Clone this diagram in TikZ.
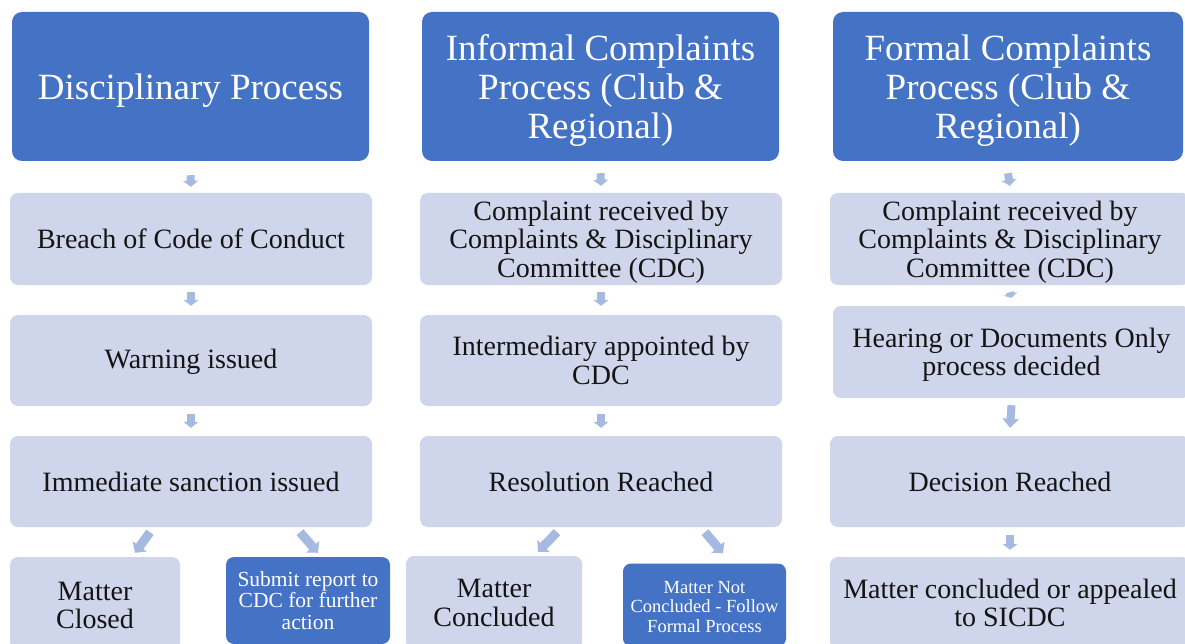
\documentclass[tikz,border=0pt]{standalone}
\usepackage{fontspec}
\setmainfont{Liberation Serif}
\usetikzlibrary{arrows.meta,calc}
\definecolor{hdr}{RGB}{68,114,196}
\definecolor{lbox}{RGB}{207,213,234}
\definecolor{arrc}{RGB}{166,185,224}
\definecolor{txt}{RGB}{20,20,20}
\newcommand{\hdrstrut}{\rule{0pt}{34pt}}
\newcommand{\bodystrut}{\rule{0pt}{25pt}}
\tikzset{
  hdrbox/.style={rectangle, rounded corners=10pt, fill=hdr, text=white, align=center,
    font=\fontsize{37}{39}\selectfont, inner sep=0pt},
  lightbox/.style={rectangle, rounded corners=8pt, fill=lbox, text=txt, align=center,
    font=\fontsize{28}{28.5}\selectfont, inner sep=0pt},
  darkbox/.style={rectangle, rounded corners=8pt, fill=hdr, text=white, align=center, inner sep=0pt},
  barrow/.style={draw=arrc, line width=8pt, -{Triangle[width=15pt,length=6pt]}},
  darrow/.style={draw=arrc, line width=9pt, -{Triangle[width=17pt,length=8pt]}},
}
\begin{document}
\begin{tikzpicture}[x=1pt,y=-1pt]
\useasboundingbox (0,0) rectangle (1185,644);
\clip (0,0) rectangle (1185,644);
% headers
\node[hdrbox, minimum width=357pt, minimum height=149pt] (h1) at (190.5,86.5) {\hdrstrut Disciplinary Process};
\node[hdrbox, minimum width=357pt, minimum height=149pt] (h2) at (600.5,86.5) {\hdrstrut Informal Complaints\\Process (Club \&\\Regional)};
\node[hdrbox, minimum width=350pt, minimum height=149pt] (h3) at (1008,86.5) {\hdrstrut Formal Complaints\\Process (Club \&\\Regional)};
% column 1
\node[lightbox, minimum width=362pt, minimum height=92pt] (b1) at (191,239) {Breach of Code of Conduct};
\node[lightbox, minimum width=362pt, minimum height=91pt] (b2) at (191,360.5) {\rule{0pt}{23pt}Warning issued};
\node[lightbox, minimum width=362pt, minimum height=91pt] (b3) at (191,481.5) {Immediate sanction issued};
\node[lightbox, minimum width=170pt, minimum height=93pt] (e1) at (95,603.5) {\rule{0pt}{22pt}Matter\\Closed};
\node[darkbox, minimum width=164pt, minimum height=87pt, font=\fontsize{21.5}{21.5}\selectfont] (e2) at (308,600.5) {Submit report to\\CDC for further\\action};
% column 2
\node[lightbox, minimum width=362pt, minimum height=92pt] (c1) at (601,239) {\bodystrut Complaint received by\\Complaints \& Disciplinary\\Committee (CDC)};
\node[lightbox, minimum width=362pt, minimum height=91pt] (c2) at (601,360.5) {Intermediary appointed by\\CDC};
\node[lightbox, minimum width=362pt, minimum height=91pt] (c3) at (601,481.5) {Resolution Reached};
\node[lightbox, minimum width=176pt, minimum height=94pt] (f1) at (494,603) {Matter\\Concluded};
\node[darkbox, minimum width=163pt, minimum height=83pt, font=\fontsize{18.5}{19.5}\selectfont] (f2) at (704.5,605) {\rule{0pt}{16pt}Matter Not\\Concluded - Follow\\Formal Process};
% column 3
\node[lightbox, minimum width=360pt, minimum height=92pt] (d1) at (1010,239) {\bodystrut Complaint received by\\Complaints \& Disciplinary\\Committee (CDC)};
\node[lightbox, minimum width=357pt, minimum height=92pt] (d2) at (1011.5,352) {\bodystrut Hearing or Documents Only\\process decided};
\node[lightbox, minimum width=360pt, minimum height=91pt] (d3) at (1010,481.5) {Decision Reached};
\node[lightbox, minimum width=360pt, minimum height=92pt] (d4) at (1010,603) {Matter concluded or appealed\\to SICDC};
% arrows column 1
\draw[barrow] ([yshift=-14pt]h1.south) -- ([yshift=6pt]b1.north);
\draw[barrow] ([yshift=-7pt]b1.south) -- ([yshift=9pt]b2.north);
\draw[barrow] ([yshift=-8pt]b2.south) -- ([yshift=8pt]b3.north);
\draw[darrow] ([xshift=-41pt,yshift=-5pt]b3.south) -- ([xshift=40pt,yshift=4pt]e1.north);
\draw[darrow] ([xshift=109pt,yshift=-5pt]b3.south) -- ([xshift=10pt,yshift=4pt]e2.north);
% arrows column 2
\draw[barrow] ([yshift=-12pt]h2.south) -- ([yshift=7pt]c1.north);
\draw[barrow] ([yshift=-7pt]c1.south) -- ([yshift=9pt]c2.north);
\draw[barrow] ([yshift=-8pt]c2.south) -- ([yshift=8pt]c3.north);
\draw[darrow] ([xshift=-44pt,yshift=-5pt]c3.south) -- ([xshift=44pt,yshift=4pt]f1.north);
\draw[darrow] ([xshift=104pt,yshift=-5pt]c3.south) -- ([xshift=18.5pt,yshift=10pt]f2.north);
% arrows column 3
\draw[barrow] ([yshift=-12pt]h3.south) -- ([yshift=7pt]d1.north);
\draw[draw=arrc, line width=8pt, -{Triangle[width=14pt,length=4pt]}] ([yshift=-7pt]d1.south) -- ([yshift=8pt]d2.north);
\draw[draw=arrc, line width=8pt, -{Triangle[width=16pt,length=9pt]}] ([yshift=-7pt]d2.south) -- ([yshift=8pt]d3.north);
\draw[barrow] ([yshift=-8pt]d3.south) -- ([yshift=7pt]d4.north);
\end{tikzpicture}
\end{document}
